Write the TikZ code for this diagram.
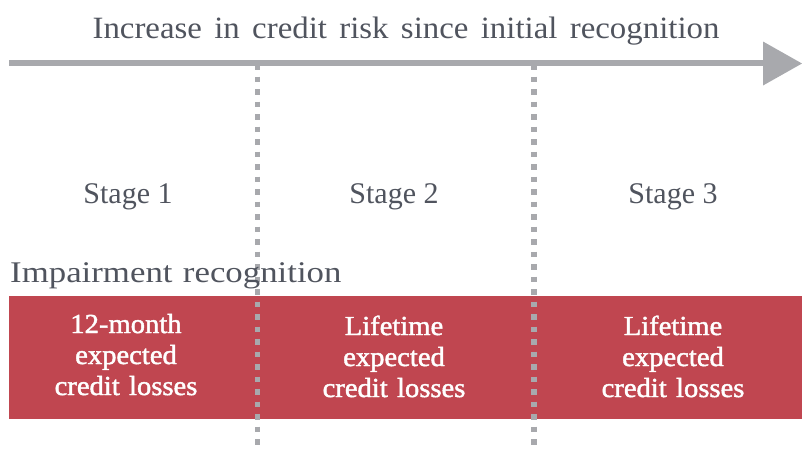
\documentclass[tikz,border=0pt]{standalone}
\usepackage{fontspec}
\setmainfont{Liberation Serif}
\newfontfamily\titlefont{Liberation Serif}[WordSpace=1.5, FakeStretch=1.06]
\newfontfamily\impairfont{Liberation Serif}[WordSpace=1.2, FakeStretch=1.16]
\newfontfamily\bandfont{Liberation Serif}[WordSpace=1.3, FakeStretch=1.04, FakeBold=1.6]
\definecolor{riskred}{RGB}{192,70,80}
\definecolor{axisgray}{RGB}{168,169,173}
\definecolor{labelgray}{RGB}{80,84,94}
\tikzset{
  label text/.style={text=labelgray, inner sep=0pt, anchor=base, font=\fontsize{30}{30}\selectfont},
  band text/.style={text=white, inner sep=0pt, align=center, anchor=base,
    font=\bandfont\fontsize{27.5}{31}\selectfont},
  stage divider/.style={draw=axisgray, line width=5.5pt, dash pattern=on 5.5pt off 7pt},
  axis line/.style={draw=axisgray, line width=6.5pt},
}
\begin{document}
\begin{tikzpicture}[x=1pt,y=-1pt]
  \useasboundingbox (0,0) rectangle (802,448);

  % risk axis with its arrow head
  \coordinate (axisStart) at (9,63);
  \coordinate (axisEnd) at (765,63);
  \draw[axis line] (axisStart) -- (axisEnd);
  \fill[axisgray] (763,41.5) -- (802,63.5) -- (763,85.5) -- cycle;
  \node[label text, font=\titlefont\fontsize{31}{31}\selectfont] (title) at (406,38.5)
    {Increase in credit risk since initial recognition};

  % impairment band
  \fill[riskred] (9,296) rectangle (802,418.5);

  % stage boundaries
  \coordinate (divAtop) at (257.5,64);
  \coordinate (divAbot) at (257.5,448);
  \coordinate (divBtop) at (534,64);
  \coordinate (divBbot) at (534,448);
  \draw[stage divider] (divAtop) -- (divAbot);
  \draw[stage divider] (divBtop) -- (divBbot);

  % stage headings
  \node[label text] (stage1) at (128,203.5) {Stage 1};
  \node[label text] (stage2) at (394,203.5) {Stage 2};
  \node[label text] (stage3) at (673,203.5) {Stage 3};

  \node[label text, anchor=base west, font=\impairfont\fontsize{30}{30}\selectfont] (impair)
    at (10,282) {Impairment recognition};

  % loss measurement per stage (anchored on the last line)
  \node[band text] (loss1) at (126,395) {12-month\\expected\\credit losses};
  \node[band text] (loss2) at (394,397) {Lifetime\\expected\\credit losses};
  \node[band text] (loss3) at (673,397) {Lifetime\\expected\\credit losses};
\end{tikzpicture}
\end{document}
